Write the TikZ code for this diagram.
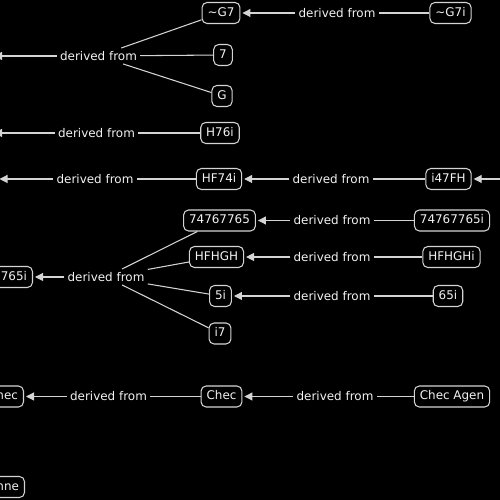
\documentclass[tikz,border=0pt]{standalone}
\usepackage{fontspec}
\setmainfont{DejaVu Sans}
\usepackage{xcolor}
\usepackage{tikz}
\usetikzlibrary{arrows.meta}
\definecolor{DGBack}{HTML}{000000}
\definecolor{DGLine}{HTML}{D4D4D4}
\definecolor{DGText}{HTML}{F2F2F2}

\begin{document}
\begin{tikzpicture}[x=1cm,y=1cm,
  term/.style={draw=DGLine,line width=0.6pt,rounded corners=0.1cm,text=DGText,
    font=\fontsize{6.8}{8}\selectfont,inner xsep=0.11cm,inner ysep=0pt,
    minimum height=0.42cm,text height=5.1pt,text depth=1.3pt},
  rel/.style={text=DGText,font=\fontsize{6.8}{8}\selectfont,inner sep=0.06cm},
  link/.style={draw=DGLine,line width=0.6pt},
  feed/.style={link,-{Triangle[length=0.16cm,width=0.16cm]},shorten >=0.04cm}]
\fill[DGBack] (0,0) rectangle (10,10);
\path[use as bounding box] (0,0) rectangle (10,10);
\clip (0,0) rectangle (10,10);
% top group
\node[term] (g7) at (4.42,9.74) {\textasciitilde G7};
\node[rel] (d1) at (6.74,9.74) {derived from};
\node[term] (g7i) at (9.01,9.74) {\textasciitilde G7i};
\node[rel] (d2) at (1.97,8.88) {derived from};
\node[term] (n7) at (4.46,8.90) {7};
\node[term] (nG) at (4.44,8.08) {G};
\coordinate (w2) at (-0.12,8.88);
\draw[link] (g7i) -- (d1);
\draw[feed] (d1) -- (g7);
\draw[link] (g7) -- (d2);
\draw[link] (n7) -- (d2);
\draw[link] (nG) -- (d2);
\draw[feed,shorten >=0pt] (d2) -- (w2);
% H76i
\node[rel] (d3) at (1.93,7.34) {derived from};
\node[term] (h76i) at (4.40,7.34) {H76i};
\coordinate (w3) at (-0.12,7.34);
\draw[link] (h76i) -- (d3);
\draw[feed,shorten >=0pt] (d3) -- (w3);
% HF74i chain
\node[rel] (d4) at (1.90,6.42) {derived from};
\node[term] (hf74i) at (4.38,6.42) {HF74i};
\node[rel] (d5) at (6.62,6.42) {derived from};
\node[term] (i47fh) at (8.97,6.42) {i47FH};
\coordinate (w4) at (-0.01,6.42);
\coordinate (e4) at (10.20,6.42);
\draw[link] (hf74i) -- (d4);
\draw[feed,shorten >=0pt] (d4) -- (w4);
\draw[link] (i47fh) -- (d5);
\draw[feed] (d5) -- (hf74i);
\draw[feed] (e4) -- (i47fh);
% four sources
\node[term,anchor=east] (n765i) at (0.66,4.46) {765i};
\node[rel] (d9) at (2.12,4.46) {derived from};
\node[term] (n747) at (4.39,5.59) {74767765};
\node[rel] (d6) at (6.64,5.59) {derived from};
\node[term] (n747i) at (9.04,5.59) {74767765i};
\node[term] (hfhgh) at (4.33,4.86) {HFHGH};
\node[rel] (d7) at (6.64,4.86) {derived from};
\node[term] (hfhghi) at (9.03,4.86) {HFHGHi};
\node[term] (n5i) at (4.41,4.08) {5i};
\node[rel] (d8) at (6.64,4.08) {derived from};
\node[term] (n65i) at (8.96,4.08) {65i};
\node[term] (ni7) at (4.40,3.33) {i7};
\draw[link] (n747) -- (d9);
\draw[link] (hfhgh) -- (d9);
\draw[link] (n5i) -- (d9);
\draw[link] (ni7) -- (d9);
\draw[feed] (d9) -- (n765i);
\draw[link] (n747i) -- (d6);
\draw[feed] (d6) -- (n747);
\draw[link] (hfhghi) -- (d7);
\draw[feed] (d7) -- (hfhgh);
\draw[link] (n65i) -- (d8);
\draw[feed] (d8) -- (n5i);
% Chec chain
\node[term,anchor=east] (hec) at (0.48,2.07) {hec};
\node[rel] (d10) at (2.17,2.07) {derived from};
\node[term] (chec) at (4.43,2.07) {Chec};
\node[rel] (d11) at (6.70,2.07) {derived from};
\node[term] (checagen) at (9.04,2.07) {Chec Agen};
\draw[link] (chec) -- (d10);
\draw[feed] (d10) -- (hec);
\draw[link] (checagen) -- (d11);
\draw[feed] (d11) -- (chec);
\node[term,anchor=east] (nne) at (0.50,0.26) {nne};
\end{tikzpicture}
\end{document}
